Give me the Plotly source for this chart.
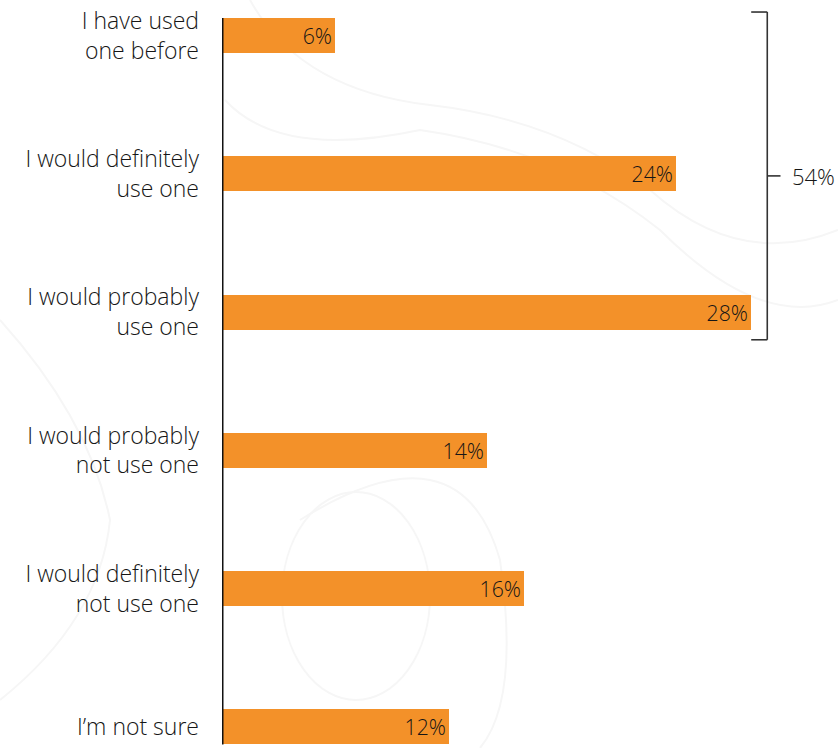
import plotly.graph_objects as go

# Survey responses
categories = [
    "I have used one before",
    "I would definitely use one",
    "I would probably use one",
    "I would probably not use one",
    "I would definitely not use one",
    "I’m not sure",
]
tick_labels = [
    "I have used<br>one before",
    "I would definitely<br>use one",
    "I would probably<br>use one",
    "I would probably<br>not use one",
    "I would definitely<br>not use one",
    "I’m not sure",
]
values = [6, 24, 28, 14, 16, 12]
value_labels = ["6%", "24%", "28%", "14%", "16%", "12%"]

# Bracket grouping the first three answers
bracket_label = "54%"
bracket_first, bracket_last = 0, 2

ORANGE = "#F39129"
TEXT = "#161616"
FONT = "Open Sans"
BAR_W = 0.253
W, H, LEFT = 838, 748, 222


def px(x, y):
    """Pixel position -> paper coordinates of the plot area."""
    return (x - LEFT) / (W - LEFT), 1 - y / H


def path(points):
    pts = [px(x, y) for x, y in points]
    d = "M {:.4f},{:.4f}".format(*pts[0])
    for a, b in zip(pts[1::2], pts[2::2]):
        d += " Q {:.4f},{:.4f} {:.4f},{:.4f}".format(*a, *b)
    return d


fig = go.Figure(
    go.Bar(
        y=categories,
        x=values,
        orientation="h",
        width=BAR_W,
        marker=dict(color=ORANGE, line=dict(width=0)),
        text=value_labels,
        textposition="inside",
        insidetextanchor="end",
        textfont=dict(family=FONT, size=22, color=TEXT, weight=300),
        cliponaxis=False,
        hoverinfo="skip",
    )
)

# Very faint contour-line decoration in the background
CONTOUR = dict(color="#f6f6f6", width=2)
decor = [
    [(250, 0), (300, 90), (430, 105), (560, 120), (650, 190), (740, 270), (838, 230)],
    [(225, 100), (280, 160), (420, 130), (560, 150), (660, 230), (760, 330), (838, 300)],
    [(0, 320), (90, 420), (110, 520), (100, 620), (0, 700)],
    [(300, 520), (460, 420), (500, 560), (520, 700), (480, 748)],
]
shapes = [
    dict(type="path", xref="paper", yref="paper", path=path(p),
         line=CONTOUR, layer="below")
    for p in decor
]
x0, y0 = px(282, 492)
x1, y1 = px(430, 700)
shapes.append(dict(type="circle", xref="paper", yref="paper",
                   x0=x0, x1=x1, y0=y1, y1=y0, line=CONTOUR, layer="below"))

# Vertical baseline spanning the bars
shapes.append(dict(
    type="line", xref="x", yref="y",
    x0=0, x1=0, y0=-BAR_W / 2, y1=len(categories) - 1 + BAR_W / 2,
    line=dict(color="#111111", width=3),
))

# Bracket on the right
bx = 28.85
top = bracket_first - 0.17
bot = bracket_last + 0.20
mid = (top + bot) / 2
for a, b, c, d in [
    (bx, top, bx, bot),
    (bx - 0.85, top, bx, top),
    (bx - 0.85, bot, bx, bot),
    (bx, mid, bx + 0.7, mid),
]:
    shapes.append(dict(type="line", xref="x", yref="y", x0=a, y0=b, x1=c, y1=d,
                       line=dict(color="#333333", width=1.6)))
fig.add_annotation(
    x=bx + 1.2, y=mid, xref="x", yref="y", text=bracket_label,
    showarrow=False, xanchor="left", yanchor="middle",
    font=dict(family=FONT, size=22, color=TEXT, weight=300),
)

fig.update_layout(
    width=W, height=H,
    margin=dict(l=LEFT, r=0, t=0, b=0),
    paper_bgcolor="white", plot_bgcolor="rgba(0,0,0,0)",
    showlegend=False,
    bargap=0,
    shapes=shapes,
    xaxis=dict(range=[0, (W - LEFT) / 18.9], visible=False, fixedrange=True),
    yaxis=dict(
        type="category",
        categoryorder="array", categoryarray=categories,
        tickmode="array", tickvals=categories, ticktext=tick_labels,
        range=[5.152, -0.257],
        showgrid=False, zeroline=False, showline=False,
        ticks="", ticklabelstandoff=22,
        tickfont=dict(family=FONT, size=23, color=TEXT, weight=300),
        fixedrange=True,
    ),
)

fig.write_html("out.html")
